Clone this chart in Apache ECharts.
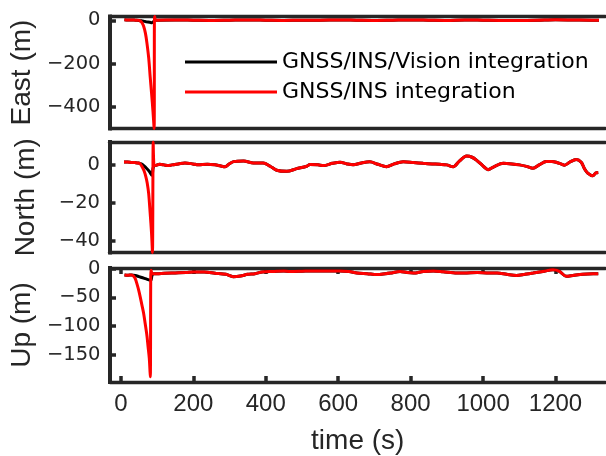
<!DOCTYPE html>
<html>
<head>
<meta charset="utf-8">
<script src="https://cdn.jsdelivr.net/npm/echarts@6/dist/echarts.min.js"></script>
<style>
  html, body { margin: 0; padding: 0; background: #fff; }
  #chart { width: 606px; height: 456px; }
</style>
</head>
<body>
<div id="chart"></div>
<script>
// Legend / series names
const seriesNames = ['GNSS/INS/Vision integration', 'GNSS/INS integration'];

// Tick values
const timeTicks = [0, 200, 400, 600, 800, 1000, 1200];
const eastTicks = [-400, -200, 0];
const northTicks = [-40, -20, 0];
const upTicks = [-150, -100, -50, 0];

// ---- East error (m) ----
// start-up and GNSS outage part, per solution
const eastVisionOutage = [[10, 3], [20, 2], [30, 2], [40, 1], [50, 0], [60, -3], [70, -6], [80, -9], [86, -11], [90, -6], [94, 0]];
const eastInsOutage = [[10, 3], [20, 2], [30, 2], [40, 1], [50, 0], [54, -3], [58, -10], [63, -27], [68, -60], [72, -104],
  [77, -175], [81, -260], [85, -340], [88.6, -417], [92, -500], [93, 18], [96, 2]];
// after the outage both solutions coincide
const eastCommon = [[100, 1], [150, 2], [200, 1], [250, 0], [300, 1], [350, 2], [400, 1], [450, 0], [500, 1], [550, 1],
  [600, 2], [650, 1], [700, 0], [750, 1], [800, 2], [850, 1], [900, 0], [950, 2], [1000, 1], [1050, 0], [1100, 0],
  [1150, 1], [1200, 3], [1250, 2], [1300, 1], [1320, 1]];

// ---- North error (m) ----
const northVisionOutage = [[10, 1.5], [20, 1.5], [30, 1.3], [40, 1.2], [50, 1], [60, 0.3], [70, -1.4], [80, -3.5], [87, -5.5], [90, -2], [93, -0.3]];
const northInsOutage = [[10, 1.5], [20, 1.5], [30, 1.3], [40, 1.2], [50, 1], [55, 0.5], [60, -1], [65, -3], [70, -6],
  [74, -9.5], [78, -15], [82, -25], [86, -36], [88.5, -46], [90.5, 12], [92.5, -0.2]];
const northCommon = [[96, -0.4], [108, 0.3], [120, 0], [132, -0.4], [142, 0], [160, 0.5], [178, 1], [200, 0.5], [215, 0],
  [240, 0.3], [261, 0], [275, -0.5], [289, -1], [300, 0.5], [312, 1.7], [340, 2], [367, 1], [394, 1], [413, -0.7],
  [431, -2.8], [459, -3.4], [486, -2], [514, -0.7], [523, 0.2], [545, 0], [560, -0.4], [585, 0.8], [606, 1.4],
  [625, 0.5], [642, 0], [665, 1], [688, 1.6], [710, 0.3], [734, -1], [755, 0.5], [780, 1.6], [808, 1.2], [835, 0.8],
  [860, 0.5], [881, 0.3], [900, 0], [918, -1], [935, 2], [955, 4.6], [970, 4], [982, 2.5], [1000, -0.5], [1014, -2.5],
  [1030, -1], [1056, 0.8], [1080, 0.5], [1101, 0], [1120, -0.8], [1138, -1.8], [1155, 0], [1175, 1.8], [1190, 1.8],
  [1202, 1.4], [1215, 0.5], [1225, -0.2], [1240, 1.5], [1257, 2.8], [1271, 1.4], [1280, -2], [1289, -4.3],
  [1303, -5.7], [1311, -4.3], [1318, -4]];

// ---- Up error (m) ----
const upVisionOutage = [[10, -11], [20, -11.5], [30, -11], [40, -12], [50, -14], [60, -16], [70, -18], [80, -20], [83, -20.5], [86, -12], [90, -9]];
const upInsOutage = [[10, -11], [20, -11.5], [30, -11], [35.4, -13.4], [40, -18], [44.6, -27], [49, -37], [53.7, -50],
  [58, -63], [62.9, -78], [67, -95], [72.1, -117], [75, -135], [78.5, -156], [81.3, -188], [83, -3], [86, -8], [90, -9]];
const upCommon = [[100, -9], [120, -8], [150, -7.5], [180, -7], [200, -6], [230, -6], [260, -8], [290, -10], [310, -14],
  [330, -13], [350, -10], [370, -9], [390, -6], [420, -5], [450, -4], [468, -5], [500, -4.5], [530, -4], [560, -4],
  [606, -4], [630, -5], [652, -7.8], [680, -9], [707, -10.5], [730, -9], [744, -7.8], [771, -5], [790, -7], [808, -7.8],
  [835, -5], [863, -4], [890, -5.5], [928, -7.8], [955, -7.5], [984, -7], [1010, -7.5], [1039, -7.8], [1065, -10],
  [1092, -12], [1115, -10], [1138, -7.8], [1165, -5], [1193, -2.2], [1211, -5], [1230, -13.5], [1248, -12],
  [1275, -9.7], [1304, -9], [1318, -9]];

const ink = '#262626';
const tickFont = 'DejaVu Sans';
const labelFont = 'Liberation Sans';
const plain = v => String(v);
const signed = v => String(v).replace('-', '\u2212');

const panels = [
  { top: 16.5, height: 112, name: 'East (m)', min: -500, max: 18, ticks: eastTicks, gap: 68,
    vision: eastVisionOutage.concat(eastCommon), ins: eastInsOutage.concat(eastCommon) },
  { top: 142, height: 110.5, name: 'North (m)', min: -46, max: 12, ticks: northTicks, gap: 69,
    vision: northVisionOutage.concat(northCommon), ins: northInsOutage.concat(northCommon) },
  { top: 268, height: 118, name: 'Up (m)', min: -197, max: 1, ticks: upTicks, gap: 74,
    vision: upVisionOutage.concat(upCommon), ins: upInsOutage.concat(upCommon) }
];

const grid = [], xAxis = [], yAxis = [], series = [];
panels.forEach((p, i) => {
  const last = i === panels.length - 1;
  grid.push({ left: 109.5, right: 0.5, top: p.top, height: p.height });
  // bottom time axis
  xAxis.push({
    type: 'value', gridIndex: i, position: 'bottom', min: -30, max: 1338,
    axisLine: { show: true, onZero: false, lineStyle: { color: ink, width: 3.3 } },
    axisTick: { show: last, inside: true, length: 6, customValues: timeTicks, lineStyle: { color: ink, width: 3.5 } },
    axisLabel: { show: last, customValues: timeTicks, formatter: plain, margin: 10, fontFamily: labelFont, fontSize: 24, color: ink },
    splitLine: { show: false },
    name: last ? 'time (s)' : '', nameLocation: 'middle', nameGap: 45,
    nameTextStyle: { fontFamily: labelFont, fontSize: 28, color: ink }
  });
  // top border
  xAxis.push({
    type: 'value', gridIndex: i, position: 'top', min: -30, max: 1338,
    axisLine: { show: true, onZero: false, lineStyle: { color: ink, width: 3.3 } },
    axisTick: { show: last, inside: true, length: 6, customValues: timeTicks, lineStyle: { color: ink, width: 3.5 } },
    axisLabel: { show: false },
    splitLine: { show: false }
  });
  yAxis.push({
    type: 'value', gridIndex: i, min: p.min, max: p.max,
    axisLine: { show: true, onZero: false, lineStyle: { color: ink, width: 4, cap: 'square' } },
    axisTick: { show: true, inside: true, length: 6, customValues: p.ticks, lineStyle: { color: ink, width: 3.5 } },
    axisLabel: { customValues: p.ticks, formatter: signed, margin: 9.5, fontFamily: tickFont, fontSize: 19.5, color: ink },
    splitLine: { show: false },
    name: p.name, nameLocation: 'middle', nameGap: p.gap,
    nameTextStyle: { fontFamily: labelFont, fontSize: 28, color: ink }
  });
  series.push({
    name: seriesNames[0], type: 'line', xAxisIndex: 2 * i, yAxisIndex: i, data: p.vision,
    showSymbol: false, symbol: 'none', smooth: 0.3, lineStyle: { color: '#000000', width: 3 },
    itemStyle: { color: '#000000' }, animation: false, z: 2
  });
  series.push({
    name: seriesNames[1], type: 'line', xAxisIndex: 2 * i, yAxisIndex: i, data: p.ins,
    showSymbol: false, symbol: 'none', smooth: 0.3, lineStyle: { color: '#ff0000', width: 3 },
    itemStyle: { color: '#ff0000' }, animation: false, z: 3
  });
});

const chart = echarts.init(document.getElementById('chart'), null, { renderer: 'canvas' });
chart.setOption({
  animation: false,
  backgroundColor: '#ffffff',
  grid, xAxis, yAxis, series,
  legend: {
    data: seriesNames.map(n => ({ name: n, icon: 'rect' })),
    orient: 'vertical', left: 180, top: 46,
    itemWidth: 92, itemHeight: 3, itemGap: 8,
    textStyle: { fontFamily: tickFont, fontSize: 22, lineHeight: 22, color: '#000000' },
    selectedMode: false
  }
});
</script>
</body>
</html>
